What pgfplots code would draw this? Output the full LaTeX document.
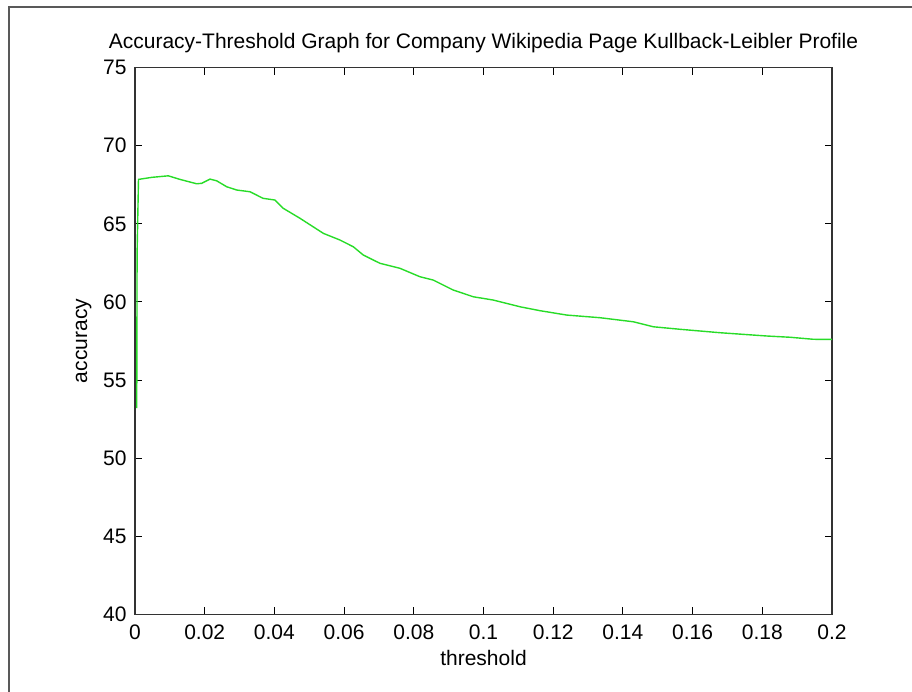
\documentclass[border=0pt]{standalone}
\usepackage{fontspec}
\setmainfont{Liberation Sans}
\usepackage{pgfplots}
\pgfplotsset{compat=1.18}
\definecolor{mgreen}{RGB}{40,220,40}
\begin{document}
\begin{tikzpicture}
\useasboundingbox (0,0) rectangle (456pt,346pt);
\fill[white] (0,0) rectangle (456pt,346pt);
\draw[line width=0.6pt, black!65] (4.5pt,0) -- (4.5pt,342.5pt) -- (456pt,342.5pt);
\begin{axis}[name=ax, at={(67.5pt,38.75pt)}, anchor=south west,
  scale only axis, width=348.5pt, height=273.5pt,
  xmin=0, xmax=0.2, ymin=40, ymax=75,
  xtick={0,0.02,0.04,0.06,0.08,0.1,0.12,0.14,0.16,0.18,0.2},
  xticklabels={0,0.02,0.04,0.06,0.08,0.1,0.12,0.14,0.16,0.18,0.2},
  ytick={40,45,50,55,60,65,70,75},
  yticklabels={40,45,50,55,60,65,70,75},
  tick align=inside, major tick length=3.5pt,
  tick style={black, line width=0.5pt},
  axis line style={line width=0.6pt, black!80},
  font=\fontsize{10.5}{12}\selectfont,
  xticklabel style={inner sep=0pt, yshift=-5pt},
  yticklabel style={inner sep=0pt, xshift=-4pt},
  clip=false]
\addplot[mgreen, line width=0.7pt] coordinates {
(0.0005,53.2) (0.0006,63.1) (0.0010,67.84)
(0.00479,67.97) (0.00955,68.07) (0.01291,67.84) (0.01770,67.56) (0.01914,67.59)
(0.02152,67.86) (0.02344,67.75) (0.02631,67.37) (0.02918,67.16) (0.03300,67.05)
(0.03673,66.63) (0.04017,66.52) (0.04255,65.99) (0.04735,65.35) (0.05403,64.39)
(0.05882,63.96) (0.06264,63.53) (0.06551,63.00) (0.07030,62.47) (0.07604,62.15)
(0.08178,61.61) (0.08559,61.40) (0.09133,60.76) (0.09707,60.33) (0.10281,60.12)
(0.11047,59.69) (0.11621,59.44) (0.12387,59.16) (0.13343,58.99) (0.14299,58.73)
(0.14873,58.41) (0.15638,58.25) (0.16786,58.03) (0.18126,57.82) (0.18794,57.74)
(0.19463,57.61) (0.2,57.6)
};
\end{axis}
\path (ax.north) ++(0,9.75pt) node[anchor=base, inner sep=0pt, font=\fontsize{10.5}{12}\selectfont]{Accuracy-Threshold Graph for Company Wikipedia Page Kullback-Leibler Profile};
\path (ax.south) ++(0,-25.75pt) node[anchor=base, inner sep=0pt, font=\fontsize{10.5}{12}\selectfont]{threshold};
\path (ax.west) ++(-24pt,0) node[rotate=90, anchor=base, inner sep=0pt, font=\fontsize{10.5}{12}\selectfont]{accuracy};
\end{tikzpicture}
\end{document}
